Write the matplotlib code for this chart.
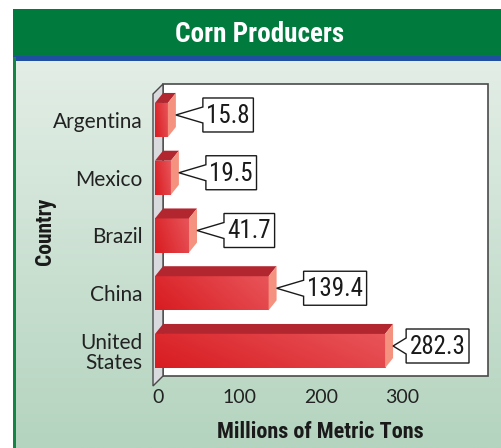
"""Corn Producers -- barres horizontales façon 3D avec étiquettes en bulles."""
import matplotlib
matplotlib.use("Agg")
import matplotlib.pyplot as plt
import numpy as np
from matplotlib.colors import LinearSegmentedColormap
from matplotlib.patches import Polygon, Rectangle
from matplotlib.transforms import IdentityTransform, blended_transform_factory, offset_copy

# ── données ───────────────────────────────────────────────────────────
countries = ["United\nStates", "China", "Brazil", "Mexico", "Argentina"]
production = [282.3, 139.4, 41.7, 19.5, 15.8]   # millions de tonnes
x_ticks = [0, 100, 200, 300]

TITLE = "Corn Producers"
XLABEL = "Millions of Metric Tons"
YLABEL = "Country"

# ── mise en page (pixels) ─────────────────────────────────────────────
W, H = 502, 448
DX, DY = 8, 10          # profondeur 3D en pixels
BAR_H = 0.59
NARROW = ["Roboto Condensed", "Roboto", "DejaVu Sans"]
HUMAN = ["Lato", "DejaVu Sans"]

fig = plt.figure(figsize=(W / 100, H / 100), dpi=100)
fig.patch.set_facecolor("white")


def box(x0, y0, x1, y1):
    """rectangle en pixels (origine en haut à gauche) -> coords figure"""
    return [x0 / W, 1 - y1 / H, (x1 - x0) / W, (y1 - y0) / H]


def fig_rect(x0, y0, x1, y1, color):
    b = box(x0, y0, x1, y1)
    fig.add_artist(Rectangle(b[:2], b[2], b[3], transform=fig.transFigure,
                             fc=color, ec="none"))


# fond dégradé vert clair
bg = fig.add_axes(box(16, 61, W, H), zorder=-5)
grad = np.linspace(0, 1, 256).reshape(-1, 1)
bg.imshow(grad, aspect="auto", extent=[0, 1, 0, 1],
          cmap=LinearSegmentedColormap.from_list("bg", ["#E3EEE6", "#B4D4BF"]))
bg.axis("off")

# bandeau titre + liseré bleu + bord gauche
fig_rect(13, 9, W, 57, "#007A3D")
fig_rect(13, 56, W, 61, "#1F4FA0")
fig_rect(13.5, 57, 16, H, "#138544")
fig.text(260 / W, 1 - 34 / H, TITLE, color="white", fontsize=19.5,
         fontweight="bold", family=NARROW, ha="center", va="center")

# ── axes (plan avant) ─────────────────────────────────────────────────
ax = fig.add_axes(box(155, 94, 480, 386))
ax.set_xlim(0, 398.8)
ax.set_ylim(-0.606, 4.45)
ax.set_autoscale_on(False)
ax.patch.set_visible(False)
for s in ax.spines.values():
    s.set_visible(False)

ypos = np.arange(len(countries))
ax.set_yticks(ypos, countries)
ax.set_xticks([])
ax.tick_params(length=0)
ax.tick_params(axis="y", pad=9)
for lab in ax.get_yticklabels():
    lab.set_fontfamily(HUMAN)
    lab.set_fontsize(15)
    lab.set_color("#222222")
    lab.set_linespacing(1.0)

# graduations x, légèrement décalées vers le plan du fond
tick_tr = offset_copy(blended_transform_factory(ax.transData, ax.transAxes),
                      fig=fig, x=3, y=-3, units="dots")
for t in x_ticks:
    ax.text(t, 0, str(t), transform=tick_tr, ha="center", va="top",
            fontsize=14, family=HUMAN, color="#222222", clip_on=False)

fig.text(45 / W, 1 - 231 / H, YLABEL, rotation=90, fontsize=15.5,
         fontweight="bold", family=NARROW, ha="center", va="center", color="#1a1a1a")
fig.text(320 / W, 1 - 432 / H, XLABEL, fontsize=16, fontweight="bold",
         family=NARROW, ha="center", va="center", color="#1a1a1a")

# mur du fond (blanc) et paroi gauche (grise)
back = offset_copy(ax.transAxes, fig=fig, x=DX, y=DY, units="dots")
ax.add_patch(Rectangle((0, 0), 1, 1, transform=back, fc="white",
                       ec="#4a4a4a", lw=1.2, zorder=0, clip_on=False))
T = ax.transAxes
fl_b = T.transform((0, 0)) - [2, 0]
fl_t = T.transform((0, 1)) - [2, 0]
ax.add_patch(Polygon([fl_b, fl_b + [DX + 2, DY], fl_t + [DX + 2, DY], fl_t],
                     transform=IdentityTransform(), fc="#D9DADD", ec="#4a4a4a",
                     lw=1, zorder=1, clip_on=False))
wall_right = T.transform((1, 0))[0] + DX

# ── barres ────────────────────────────────────────────────────────────
front_cmap = LinearSegmentedColormap.from_list("front", ["#D81C21", "#E8555A"])
gx, gy = np.meshgrid(np.linspace(0, 1, 128), np.linspace(0, 1, 32))
front_grad = 0.75 * gx + 0.25 * gy

bars = ax.barh(ypos, production, height=BAR_H, color="#E03A3E", zorder=3)
for rect in bars:
    x0, y0 = rect.get_x(), rect.get_y()
    im = ax.imshow(front_grad, extent=[x0, x0 + rect.get_width(), y0, y0 + BAR_H],
                   origin="lower", aspect="auto", cmap=front_cmap, zorder=3)
    im.set_clip_path(rect)
ax.set_xlim(0, 398.8)
ax.set_ylim(-0.606, 4.45)

fig.canvas.draw()
renderer = fig.canvas.get_renderer()
D = np.array([DX, DY])
TD = ax.transData
for y, v in zip(ypos, production):
    tl = TD.transform((0, y + BAR_H / 2))
    tr = TD.transform((v, y + BAR_H / 2))
    br = TD.transform((v, y - BAR_H / 2))
    ax.add_patch(Polygon([tl, tr, tr + D, tl + D], transform=IdentityTransform(),
                         fc="#B1262F", ec="none", zorder=4, clip_on=False))
    ax.add_patch(Polygon([br, tr, tr + D, br + D], transform=IdentityTransform(),
                         fc="#F4917F", ec="none", zorder=4, clip_on=False))

    # bulle avec la valeur (mesure du texte puis cadre à encoche)
    tip = np.array([br[0] + DX, (br[1] + tr[1]) / 2 + DY / 2])
    txt = ax.text(0, tip[1] - 1, f"{v}", transform=IdentityTransform(),
                  fontsize=18, family=NARROW, color="#1a1a1a",
                  ha="left", va="center", zorder=7, clip_on=False)
    width = txt.get_window_extent(renderer).width + 7
    left = min(tip[0] + 27, wall_right - 19 - width)
    txt.set_x(left + 3.5)
    right = left + width
    top, bot = tip[1] + 17, tip[1] - 17
    ax.add_patch(Polygon([(left, tip[1] + 8), (left, top), (right, top),
                          (right, bot), (left, bot), (left, tip[1] - 8), tip],
                         closed=True, transform=IdentityTransform(), fc="white",
                         ec="#1a1a1a", lw=1, zorder=6, clip_on=False))

fig.savefig("out.png", dpi=100)
plt.close(fig)
